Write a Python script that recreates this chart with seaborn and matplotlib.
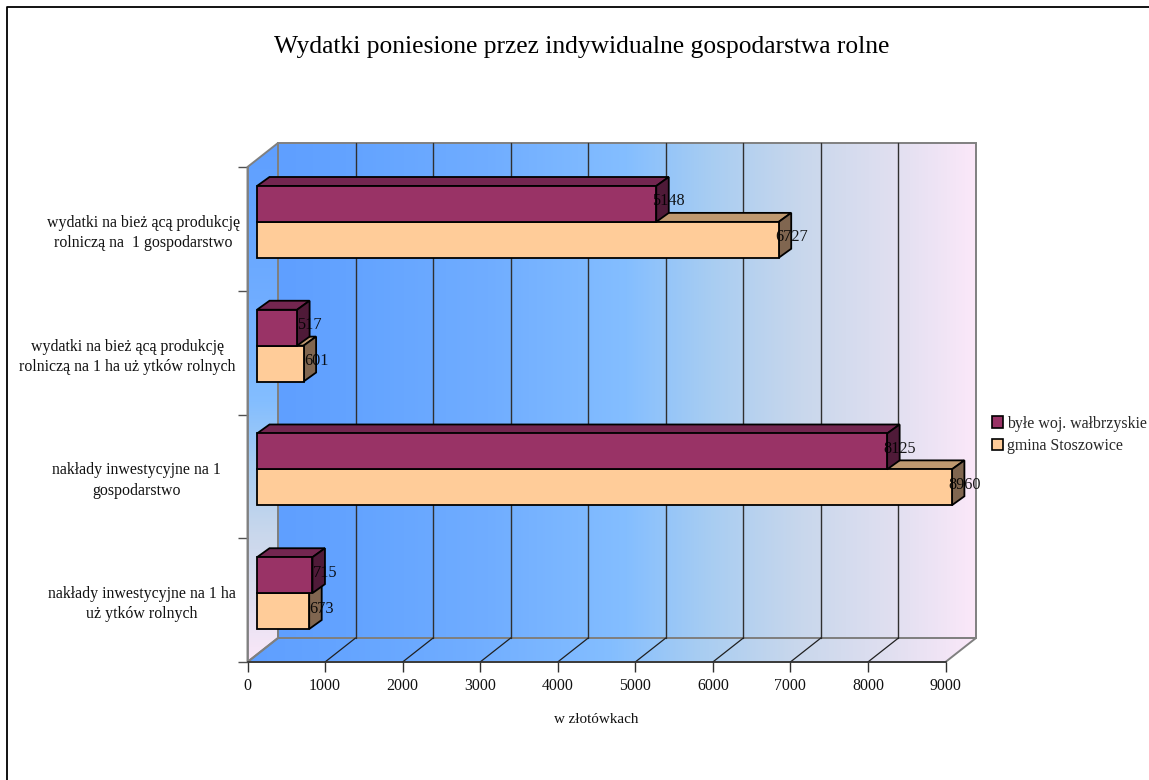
# Wydatki gospodarstw rolnych - horizontal bars with a hand made 3D look

import numpy as np
import pandas as pd
import matplotlib
matplotlib.use("Agg")
import matplotlib.pyplot as plt
import seaborn as sns
from matplotlib.colors import LinearSegmentedColormap
from matplotlib.lines import Line2D
from matplotlib.patches import Patch, Polygon
from matplotlib.ticker import FixedLocator

categories = [
    "wydatki na bież ącą produkcję\nrolniczą na  1 gospodarstwo",
    "wydatki na bież ącą produkcję\nrolniczą na 1 ha uż ytków rolnych",
    "nakłady inwestycyjne na 1\ngospodarstwo",
    "nakłady inwestycyjne na 1 ha\nuż ytków rolnych",
]
series_names = ["byłe woj. wałbrzyskie", "gmina Stoszowice"]
walbrzych = [5148, 517, 8125, 715]
stoszowice = [6727, 601, 8960, 673]
x_ticks = [0, 1000, 2000, 3000, 4000, 5000, 6000, 7000, 8000, 9000]

W, H = 1149, 780
LEFT, RIGHT, TOP, BOTTOM = 247.5, 945.5, 167.0, 662.0

sns.set_theme(style="white")
plt.rcParams["font.family"] = ["Liberation Serif", "DejaVu Serif"]
FS = 11.4

df = pd.DataFrame({
    "kategoria": categories * 2,
    "seria": [series_names[0]] * 4 + [series_names[1]] * 4,
    "wartosc": walbrzych + stoszowice,
})

fig = plt.figure(figsize=(W / 100, H / 100), dpi=100)
ax = fig.add_axes([LEFT / W, 1 - BOTTOM / H, (RIGHT - LEFT) / W, (BOTTOM - TOP) / H])

front = "#993366"
front2 = "#FFCC99"
sns.barplot(data=df, y="kategoria", x="wartosc", hue="seria", palette=[front, front2],
            hue_order=series_names, order=categories, width=0.58, gap=0, saturation=1,
            edgecolor="black", linewidth=1.3, legend=False, ax=ax)

ax.set_xlim(0, 9000)
ax.set_ylim(3.5, -0.5)

# data units per pixel
ux = 9000 / (RIGHT - LEFT)
uy = 4 / (BOTTOM - TOP)
wall_dx, wall_dy = 30.5 * ux, 24 * uy
bar_dx, bar_dy = 12.5 * ux, 9 * uy
shift_x, shift_y = 9.5 * ux, -7 * uy

# walls and floor
wall_cmap = LinearSegmentedColormap.from_list("wall", [
    (0.0, "#5f9fff"), (0.12, "#64a4ff"), (0.3, "#70adff"), (0.5, "#84beff"),
    (0.62, "#a8cdf2"), (0.75, "#c8d7ec"), (0.88, "#e0dff0"), (1.0, "#fbe8f9"),
])
grad = np.linspace(0, 1, 256)
top_y, bot_y = -0.5, 3.5


def gradient(corners, extent, vertical=False):
    g = grad[:, None] if vertical else grad[None, :]
    im = ax.imshow(g, cmap=wall_cmap, extent=extent, aspect="auto", zorder=0, origin="upper" if vertical else "lower")
    clip = Polygon(corners, closed=True, transform=ax.transData)
    im.set_clip_box(fig.bbox)
    im.set_clip_path(clip)


back = [(wall_dx, top_y - wall_dy), (9000 + wall_dx, top_y - wall_dy),
        (9000 + wall_dx, bot_y - wall_dy), (wall_dx, bot_y - wall_dy)]
floor = [(0, bot_y), (9000, bot_y), (9000 + wall_dx, bot_y - wall_dy), (wall_dx, bot_y - wall_dy)]
side = [(0, top_y), (wall_dx, top_y - wall_dy), (wall_dx, bot_y - wall_dy), (0, bot_y)]

gradient(back, (wall_dx, 9000 + wall_dx, bot_y - wall_dy, top_y - wall_dy))
gradient(floor, (0, 9000 + wall_dx, bot_y, bot_y - wall_dy))
gradient(side, (0, wall_dx, bot_y, top_y - wall_dy), vertical=True)
ax.set_xlim(0, 9000)
ax.set_ylim(3.5, -0.5)

for corners in (back, floor, side):
    ax.add_patch(Polygon(corners, closed=True, fill=False, edgecolor="#808080", linewidth=1.4,
                         clip_on=False, zorder=1))

# gridlines on the back wall and floor
for t in x_ticks[1:-1]:
    ax.plot([t + wall_dx] * 2, [top_y - wall_dy, bot_y - wall_dy], color="#303030", linewidth=1.0,
            clip_on=False, zorder=1.2)
for t in x_ticks[1:-1]:
    ax.plot([t, t + wall_dx], [bot_y, bot_y - wall_dy], color="#202020", linewidth=0.9,
            clip_on=False, zorder=1.2)

# the fake depth of the bars, purple sits on top of the orange
shades = [("#732650", "#4f1a38", 4), ("#bf9970", "#806650", 3)]
for container, values, (c_top, c_side, z) in zip(ax.containers, [walbrzych, stoszowice], shades):
    for bar, value in zip(container, values):
        bar.set_x(bar.get_x() + shift_x)
        bar.set_y(bar.get_y() + shift_y)
        bar.set_zorder(z + 0.1)
        bar.set_clip_on(False)
        x0, y0, w, h = bar.get_x(), bar.get_y(), bar.get_width(), bar.get_height()
        top_face = [(x0, y0), (x0 + bar_dx, y0 - bar_dy), (x0 + w + bar_dx, y0 - bar_dy), (x0 + w, y0)]
        side_face = [(x0 + w, y0), (x0 + w + bar_dx, y0 - bar_dy),
                     (x0 + w + bar_dx, y0 + h - bar_dy), (x0 + w, y0 + h)]
        ax.add_patch(Polygon(top_face, closed=True, facecolor=c_top, edgecolor="black",
                             linewidth=1.3, zorder=z, clip_on=False))
        ax.add_patch(Polygon(side_face, closed=True, facecolor=c_side, edgecolor="black",
                             linewidth=1.3, zorder=z, clip_on=False))
        ax.text(x0 + w + 12.5 * ux, y0 + h / 2 - 2.5 * uy, str(value), ha="center", va="center",
                fontsize=11.7, color="black", zorder=6, clip_on=False, alpha=0.9)

# axes
sns.despine(ax=ax, top=True, right=True)
ax.spines["left"].set_color("#808080")
ax.spines["left"].set_linewidth(1.2)
ax.spines["bottom"].set_color("#303030")
ax.spines["bottom"].set_linewidth(1.2)
ax.set_xticks(x_ticks)
ax.set_xticklabels([str(t) for t in x_ticks], fontsize=FS, color="#111111")
ax.tick_params(axis="x", length=7.2, width=1.0, color="#303030", pad=4.5, bottom=True)
ax.set_xlabel("w złotówkach", fontsize=FS - 0.5, color="#111111", labelpad=13.5)
ax.set_ylabel("")
ax.yaxis.set_minor_locator(FixedLocator([-0.5, 0.5, 1.5, 2.5, 3.5]))
ax.tick_params(axis="y", which="minor", length=7.2, width=1.0, color="#505050", left=True)
ax.tick_params(axis="y", which="major", length=0, labelsize=FS, labelcolor="#111111")
for tick, pad in zip(ax.yaxis.get_major_ticks(), [5.5, 8.5, 19, 8.5]):
    tick.set_pad(pad)
for label in ax.get_yticklabels():
    label.set_multialignment("center")
    label.set_linespacing(1.35)

handles = [Patch(facecolor=front, edgecolor="black", linewidth=1.2),
           Patch(facecolor=front2, edgecolor="black", linewidth=1.2)]
fig.legend(handles, series_names, loc="upper left", bbox_to_anchor=(991.5 / W, 1 - 415.5 / H),
           frameon=False, fontsize=FS, handlelength=0.7, handleheight=0.7, handletextpad=0.27,
           labelspacing=0.42, borderpad=0, borderaxespad=0)

fig.text(581.5 / W, 1 - 47 / H, "Wydatki poniesione przez indywidualne gospodarstwa rolne",
         ha="center", va="center", fontsize=18.4, color="black")

# frame of the sheet, only left and top are in the picture
fig.add_artist(Line2D([7.3 / W, 7.3 / W, 1], [0, 1 - 7.3 / H, 1 - 7.3 / H], color="black", linewidth=1.3))

fig.savefig("out.png", dpi=100, facecolor="white")
